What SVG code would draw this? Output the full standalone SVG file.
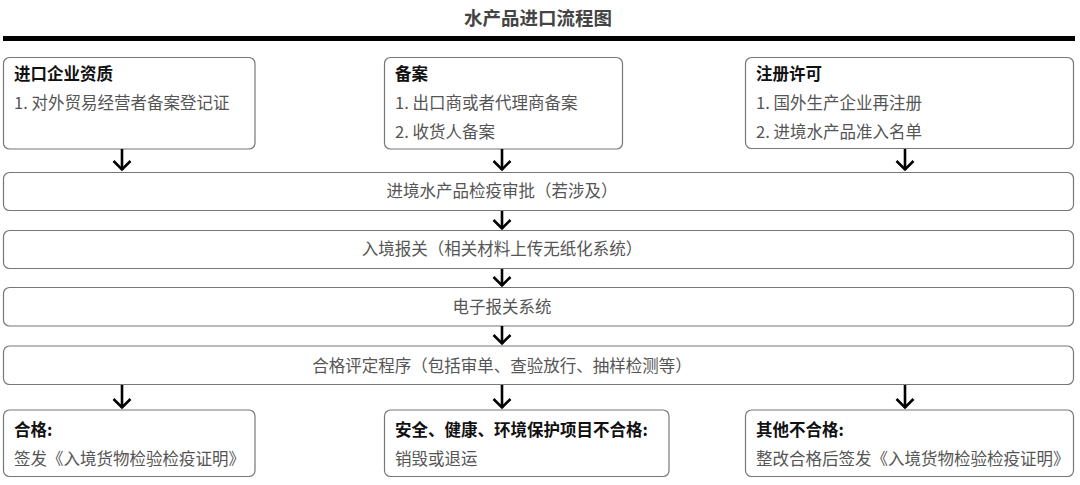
<svg xmlns="http://www.w3.org/2000/svg" width="1080" height="485" viewBox="0 0 1080 485">
<style>
text{font-family:"Noto Sans CJK SC","Liberation Sans",sans-serif;font-size:16.5px;fill:#555}
.t{font-weight:bold;fill:#111}
.h{font-weight:bold;font-size:18.5px;fill:#444}
.c{text-anchor:middle}
rect{fill:#fff;stroke:#777;stroke-width:1.2}
.arr{fill:none;stroke:#000;stroke-width:2.6}
</style>
<defs>
<marker id="ah" viewBox="0 0 12 20" refX="10.5" refY="10" markerWidth="12" markerHeight="20" markerUnits="userSpaceOnUse" orient="auto">
<path d="M1.5,1.5 L10,10 L1.5,18.5" fill="none" stroke="#000" stroke-width="2.6"/>
</marker>
</defs>
<rect x="0" y="0" width="1080" height="485" style="fill:#fff;stroke:none"/>
<g id="title">
<text class="h c" x="538" y="25">水产品进口流程图</text>
<line x1="3" y1="38.5" x2="1075" y2="38.5" stroke="#000" stroke-width="5"/>
</g>
<g id="n1"><rect x="3.5" y="57.5" width="251.5" height="91.5" rx="6"/>
<text class="t" x="14" y="80">进口企业资质</text>
<text x="14" y="109">1. 对外贸易经营者备案登记证</text></g>
<g id="n2"><rect x="384.5" y="57.5" width="238" height="91.5" rx="6"/>
<text class="t" x="395" y="80">备案</text>
<text x="395" y="109">1. 出口商或者代理商备案</text>
<text x="395" y="138">2. 收货人备案</text></g>
<g id="n3"><rect x="745.5" y="57.5" width="328" height="91" rx="6"/>
<text class="t" x="756" y="80">注册许可</text>
<text x="756" y="109">1. 国外生产企业再注册</text>
<text x="756" y="138">2. 进境水产品准入名单</text></g>
<g id="n4"><rect x="3.5" y="172.5" width="1070" height="38" rx="6"/>
<text class="c" x="502" y="197">进境水产品检疫审批（若涉及）</text></g>
<g id="n5"><rect x="3.5" y="230.5" width="1070" height="38" rx="6"/>
<text class="c" x="502" y="255">入境报关（相关材料上传无纸化系统）</text></g>
<g id="n6"><rect x="3.5" y="287.5" width="1070" height="38.5" rx="6"/>
<text class="c" x="502" y="313">电子报关系统</text></g>
<g id="n7"><rect x="3.5" y="346" width="1070" height="38.5" rx="6"/>
<text class="c" x="502" y="372">合格评定程序（包括审单、查验放行、抽样检测等）</text></g>
<g id="n8"><rect x="3.5" y="410" width="251.5" height="66.5" rx="6"/>
<text class="t" x="14" y="436">合格:</text>
<text x="14" y="465">签发《入境货物检验检疫证明》</text></g>
<g id="n9"><rect x="384.5" y="410" width="284.5" height="66.5" rx="6"/>
<text class="t" x="395" y="436">安全、健康、环境保护项目不合格:</text>
<text x="395" y="465">销毁或退运</text></g>
<g id="n10"><rect x="745.5" y="410" width="328" height="66.5" rx="6"/>
<text class="t" x="756" y="436">其他不合格:</text>
<text x="756" y="465">整改合格后签发《入境货物检验检疫证明》</text></g>
<g id="connectors" class="arr">
<line x1="122" y1="149" x2="122" y2="170" marker-end="url(#ah)"/>
<line x1="502" y1="149" x2="502" y2="170" marker-end="url(#ah)"/>
<line x1="905" y1="149" x2="905" y2="170" marker-end="url(#ah)"/>
<line x1="502" y1="211" x2="502" y2="229" marker-end="url(#ah)"/>
<line x1="502" y1="269" x2="502" y2="286" marker-end="url(#ah)"/>
<line x1="502" y1="326" x2="502" y2="344" marker-end="url(#ah)"/>
<line x1="122" y1="385" x2="122" y2="408" marker-end="url(#ah)"/>
<line x1="502" y1="385" x2="502" y2="408" marker-end="url(#ah)"/>
<line x1="905" y1="385" x2="905" y2="408" marker-end="url(#ah)"/>
</g>
</svg>
